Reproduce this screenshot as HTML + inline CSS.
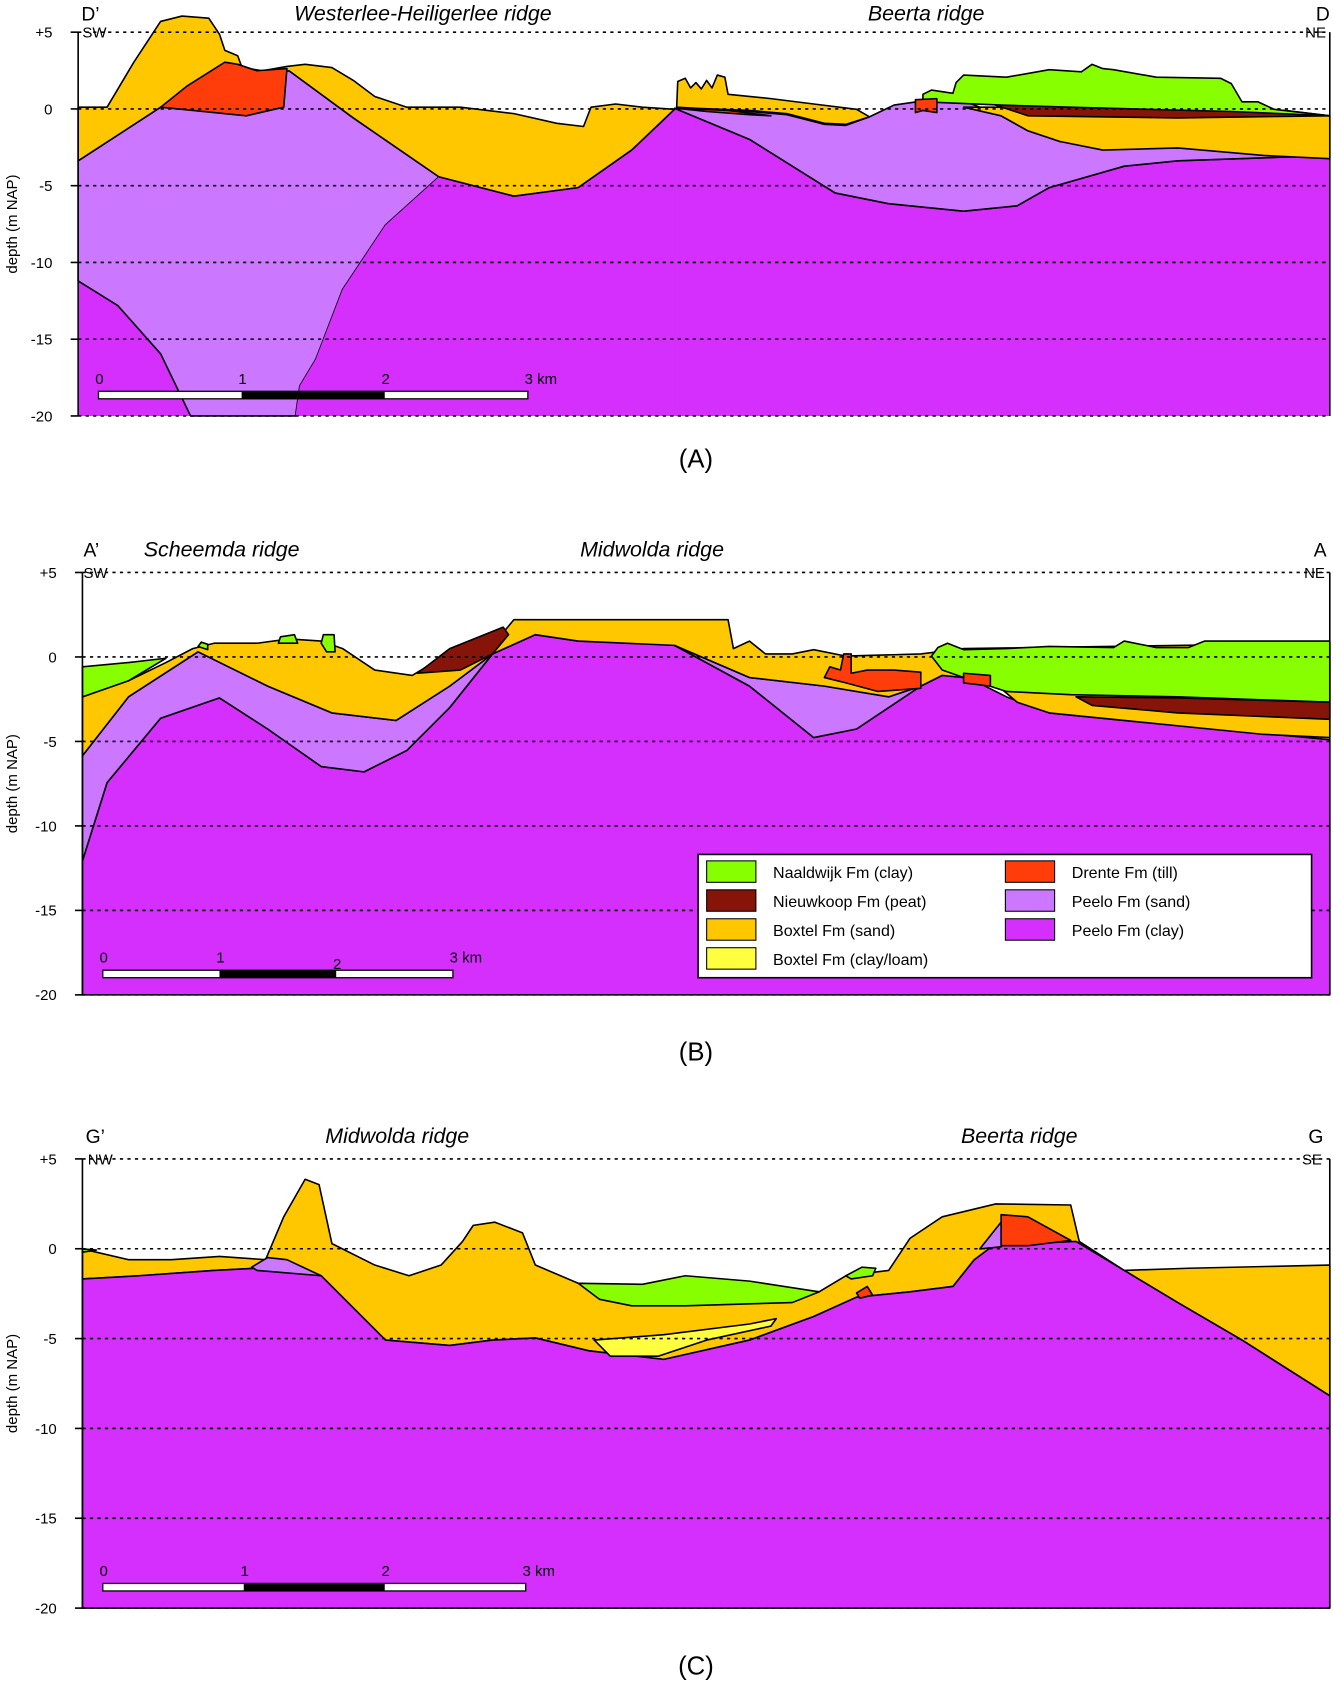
<!DOCTYPE html>
<html><head><meta charset="utf-8"><style>
html,body{margin:0;padding:0;background:#fff;}
svg{display:block;font-family:"Liberation Sans",sans-serif;}
.pc{fill:#d42ffd}.ps{fill:#cc77ff}.bs{fill:#ffc700}.nw{fill:#88ff00}.dr{fill:#ff3d0a}.np{fill:#861408}.bc{fill:#ffff40}
path{stroke:#000;stroke-width:1.5;stroke-linejoin:round}
</style></head><body>
<svg id="fig" width="1333" height="1681" viewBox="0 0 1245 1568" preserveAspectRatio="none" xmlns="http://www.w3.org/2000/svg">
<!-- Panel A -->
<g id="panelA">
<path class="pc" style="stroke:none" d="M73,150 L560,150 L630,101 L700,130 L780,180 L830,190 L900,197 L950,192 L980,175 L1050,155 L1100,150 L1242,145 L1242,388 L73,388 Z"/>
<path d="M630,101 L700,130 L780,180 L830,190 L900,197 L950,192 L980,175 L1050,155 L1100,150 L1242,145" fill="none"/>
<path class="ps" d="M73,150 L150,100 L270,66 L330,110 L410,165 L360,210 L320,270 L295,335 L280,360 L276,388 L178,388 L150,330 L110,285 L73,262 Z"/>
<path class="bs" d="M73,100 L100,100 L125,58 L150,20 L170,15 L195,17 L205,32 L210,47 L222,52 L226,63 L245,66 L268,62 L285,60 L310,63 L330,75 L350,90 L380,100 L430,100 L480,106 L520,115 L545,118 L552,100 L575,97 L600,100 L630,102 L590,140 L540,175 L480,183 L410,165 L330,110 L270,66 L150,100 L73,150 Z"/>
<path class="dr" d="M150,100 L175,80 L210,58 L222,60 L240,66 L268,64 L265,100 L230,108 Z"/>
<path class="pc" d="M410,165 L480,183 L540,175 L590,140 L630,102 L630,388 L276,388 L280,360 L295,335 L320,270 L360,210 Z" style="stroke:none"/>
<path d="M410,165 L480,183 L540,175 L590,140 L630,102" fill="none"/>
<path class="ps" d="M630,101 L700,104 L735,107 L770,116 L790,117 L812,109 L835,98 L870,93 L905,96 L935,108 L960,122 L990,132 L1050,137 L1180,140 L1242,145 L1100,150 L1050,155 L980,175 L950,192 L900,197 L830,190 L780,180 L700,130 Z"/>
<path class="bs" d="M632,100 L633,76 L640,73 L645,82 L650,77 L655,83 L660,75 L665,82 L670,70 L677,72 L680,88 L720,92 L760,97 L800,102 L812,109 L790,116 L770,115 L735,106 L700,103 L650,101 Z"/>
<path class="dr" d="M632,101 L680,103 L720,108 L700,107 L660,104 Z"/>
<path class="bs" d="M900,100 L960,100 L1242,108 L1242,148 L1180,145 L1100,138 L1030,140 L990,132 L960,122 L935,108 Z"/>
<path class="np" d="M930,98 L1200,103 L1242,108 L1100,110 L960,108 Z"/>
<path class="nw" d="M862,95 L862,88 L870,84 L890,87 L893,77 L900,70 L940,72 L980,65 L1010,67 L1020,60 L1030,64 L1040,65 L1080,72 L1140,73 L1150,78 L1160,95 L1175,95 L1190,102 L1242,108 L1150,104 L1000,100 L935,98 Z"/>
<path class="dr" d="M855,93 L875,92 L875,105 L862,103 L855,105 Z"/>
</g>
<!-- Panel B -->
<g id="panelB">
<path class="pc" d="M77,803 L100,730 L150,670 L205,651 L250,680 L300,715 L340,720 L380,700 L420,660 L460,610 L500,592 L540,598 L600,600 L630,602 L700,640 L760,688 L800,680 L830,660 L860,640 L880,630 L900,630 L940,650 L980,665 L1050,672 L1242,690 L1242,928 L77,928 Z"/>
<path class="ps" d="M77,705 L120,650 L185,608 L250,640 L310,665 L370,672 L420,640 L460,610 L420,660 L380,700 L340,720 L300,715 L250,680 L205,651 L150,670 L100,730 L77,803 Z"/>
<path class="ps" d="M630,602 L700,632 L770,640 L830,650 L860,640 L830,660 L800,680 L760,688 L700,640 Z"/>
<path class="bs" d="M77,690 L77,650 L120,635 L155,618 L180,605 L200,600 L240,600 L270,596 L300,598 L320,605 L350,625 L385,630 L410,615 L450,600 L470,590 L480,578 L680,578 L685,605 L700,598 L715,610 L740,610 L760,606 L790,612 L860,610 L900,605 L1242,600 L1242,688 L1180,685 L1050,672 L980,665 L950,655 L930,638 L900,632 L880,630 L860,640 L830,650 L770,640 L700,632 L630,602 L540,598 L500,592 L460,610 L420,640 L370,672 L310,665 L250,640 L185,608 L120,650 L77,705 Z"/>
<path class="nw" d="M880,625 L870,612 L876,604 L885,600 L900,606 L940,605 L980,603 L1040,604 L1050,598 L1080,604 L1110,604 L1125,598 L1180,598 L1242,598 L1242,655 L1100,650 L1000,648 L940,645 L900,632 Z"/>
<path class="nw" d="M77,622 L120,618 L155,614 L120,635 L77,650 Z"/>
<path class="np" d="M1005,650 L1100,651 L1242,655 L1242,671 L1100,665 L1020,658 Z"/>
<path class="np" d="M390,628 L420,605 L470,585 L475,592 L460,610 L430,625 Z"/>
<path class="dr" d="M770,632 L775,622 L785,625 L788,610 L795,610 L795,628 L810,625 L835,625 L860,627 L860,642 L820,645 L790,637 Z"/>
<path class="dr" d="M900,628 L925,630 L925,640 L900,637 Z"/>
<path class="nw" d="M260,600 L262,594 L275,592 L278,600 Z M300,600 L302,592 L312,592 L313,608 L305,608 Z M185,603 L188,599 L194,601 L194,606 Z"/>
</g>
<!-- Panel C -->
<g id="panelC">
<path class="bs" d="M77,1165 L120,1175 L160,1175 L205,1172 L248,1175 L265,1135 L285,1100 L298,1105 L310,1160 L350,1180 L382,1190 L412,1180 L432,1158 L442,1143 L462,1140 L488,1150 L500,1180 L540,1197 L600,1200 L700,1202 L765,1205 L790,1190 L830,1185 L850,1155 L880,1135 L930,1123 L1000,1124 L1008,1158 L1050,1185 L1000,1158 L960,1162 L930,1162 L910,1175 L890,1200 L850,1205 L800,1210 L760,1228 L700,1250 L620,1268 L550,1260 L500,1248 L460,1250 L420,1255 L360,1250 L330,1220 L300,1190 L240,1183 L200,1185 L130,1190 L77,1193 Z"/>
<path class="bs" d="M1050,1185 L1110,1183 L1242,1180 L1242,1302 L1160,1250 L1100,1215 Z"/>
<path class="pc" d="M77,1193 L130,1190 L200,1185 L240,1183 L300,1190 L330,1220 L360,1250 L420,1255 L460,1250 L500,1248 L550,1260 L620,1268 L700,1250 L760,1228 L800,1210 L850,1205 L890,1200 L910,1175 L930,1160 L960,1160 L1005,1158 L1050,1185 L1100,1215 L1160,1250 L1242,1302 L1242,1500 L77,1500 Z"/>
<path class="nw" d="M540,1197 L600,1198 L640,1190 L700,1195 L765,1205 L740,1215 L640,1218 L590,1218 L560,1212 Z"/>
<path class="nw" d="M790,1190 L805,1182 L818,1183 L815,1190 L795,1193 Z M77,1165 L90,1166 L77,1168 Z"/>
<path class="bc" d="M555,1250 L620,1245 L700,1235 L725,1230 L720,1237 L660,1250 L615,1265 L570,1265 Z"/>
<path class="dr" d="M935,1133 L960,1135 L1000,1157 L960,1162 L935,1162 Z"/>
<path class="dr" d="M800,1206 L810,1200 L815,1208 L803,1211 Z"/>
<path class="ps" d="M915,1165 L935,1140 L935,1163 Z M235,1182 L250,1173 L268,1175 L300,1190 L240,1185 Z"/>
</g>
<g id="axes"></g>
<g font-style="italic" font-size="20" text-anchor="middle">
<text x="395" y="19">Westerlee-Heiligerlee ridge</text>
<text x="865" y="19">Beerta ridge</text>
<text x="207" y="519">Scheemda ridge</text>
<text x="609" y="519">Midwolda ridge</text>
<text x="371" y="1066">Midwolda ridge</text>
<text x="952" y="1066">Beerta ridge</text>
</g>
<g font-size="18">
<text x="76" y="19">D’</text>
<text x="1229" y="19">D</text>
<text x="78" y="519">A’</text>
<text x="1227" y="519">A</text>
<text x="80" y="1066">G’</text>
<text x="1222" y="1066">G</text>
</g>
<g font-size="14">
<text x="77" y="35">SW</text>
<text x="1219" y="35">NE</text>
<text x="78" y="539">SW</text>
<text x="1218" y="539">NE</text>
<text x="82" y="1086">NW</text>
<text x="1216" y="1086">SE</text>
</g>
<g font-size="24" text-anchor="middle">
<text x="650" y="436">(A)</text>
<text x="650" y="989">(B)</text>
<text x="650" y="1562">(C)</text>
</g>
<g font-size="15">
<rect x="652" y="797" width="573" height="115" fill="#fff" stroke="#000" stroke-width="1.5"/>
<rect class="nw" x="660" y="803" width="46" height="20" stroke="#000"/>
<text x="722" y="819">Naaldwijk Fm (clay)</text>
<rect class="np" x="660" y="830" width="46" height="20" stroke="#000"/>
<text x="722" y="846">Nieuwkoop Fm (peat)</text>
<rect class="bs" x="660" y="857" width="46" height="20" stroke="#000"/>
<text x="722" y="873">Boxtel Fm (sand)</text>
<rect class="bc" x="660" y="884" width="46" height="20" stroke="#000"/>
<text x="722" y="900">Boxtel Fm (clay/loam)</text>
<rect class="dr" x="939" y="803" width="46" height="20" stroke="#000"/>
<text x="1001" y="819">Drente Fm (till)</text>
<rect class="ps" x="939" y="830" width="46" height="20" stroke="#000"/>
<text x="1001" y="846">Peelo Fm (sand)</text>
<rect class="pc" x="939" y="857" width="46" height="20" stroke="#000"/>
<text x="1001" y="873">Peelo Fm (clay)</text>
</g>
</svg>
<script>
const depthTicks = [5, 0, -5, -10, -15, -20];
const depthTickLabels = ["+5", "0", "-5", "-10", "-15", "-20"];
const scaleLabels = ["0", "1", "2", "3 km"];
const scaleKm = [0, 1, 2, 3];
const panelsTop = [30, 534, 1081];
const panelsBottom = [388, 928, 1500];
const panelsX = [73, 77, 77];
const scaleX = [[92, 493, 365], [96, 423, 905], [96, 491, 1477]];
const NS = "http://www.w3.org/2000/svg";
const g = document.getElementById("axes");
function mk(tag, attrs){const e=document.createElementNS(NS,tag);for(const k in attrs)e.setAttribute(k,attrs[k]);g.appendChild(e);return e;}
for (let p = 0; p < 3; p++) {
  const x0 = panelsX[p], top = panelsTop[p], bot = panelsBottom[p];
  const yScale = d => top + (5 - d) / 25 * (bot - top);
  const ax = mk("line",{x1:x0,x2:x0,y1:top,y2:bot,stroke:"#000","stroke-width":1.5});
  
  
  const rt = mk("line",{x1:1242,x2:1242,y1:top,y2:bot,stroke:"#000","stroke-width":1.5});
  
  
  depthTicks.forEach((d, i) => {
    const y = yScale(d);
    const gl = mk("line",{x1:x0,x2:1242,y1:y,y2:y,stroke:"#000","stroke-width":1.5,"stroke-dasharray":"3,4"});
    
    
    const tk = mk("line",{x1:x0-7,x2:x0,y1:y,y2:y,stroke:"#000","stroke-width":1.5});
    
    
    const t = mk("text",{x:x0-24,y:y+5,"font-size":14,"text-anchor":"end"});
    t.textContent = depthTickLabels[i];
    
    
  });
  const yt = mk("text",{transform:`translate(16,${(top+bot)/2}) rotate(-90)`,"font-size":14,"text-anchor":"middle"});
  yt.textContent = "depth (m NAP)";
  
  
  const [sx0, sx1, sy] = scaleX[p];
  const kmScale = k => sx0 + k / 3 * (sx1 - sx0);
  const sb = mk("rect",{x:sx0,y:sy,width:sx1-sx0,height:7,fill:"#fff",stroke:"#000","stroke-width":1.2});
  
  
  const sbb = mk("rect",{x:kmScale(1),y:sy,width:kmScale(2)-kmScale(1),height:7,fill:"#000"});
  
  
  scaleKm.forEach((k, i) => {
    const t = mk("text",{x:kmScale(k)-3,y:sy-7+(i==2&&p==1?6:0),"font-size":14});
    t.textContent = scaleLabels[i];
    
    
  });
}
</script>
</body></html>
